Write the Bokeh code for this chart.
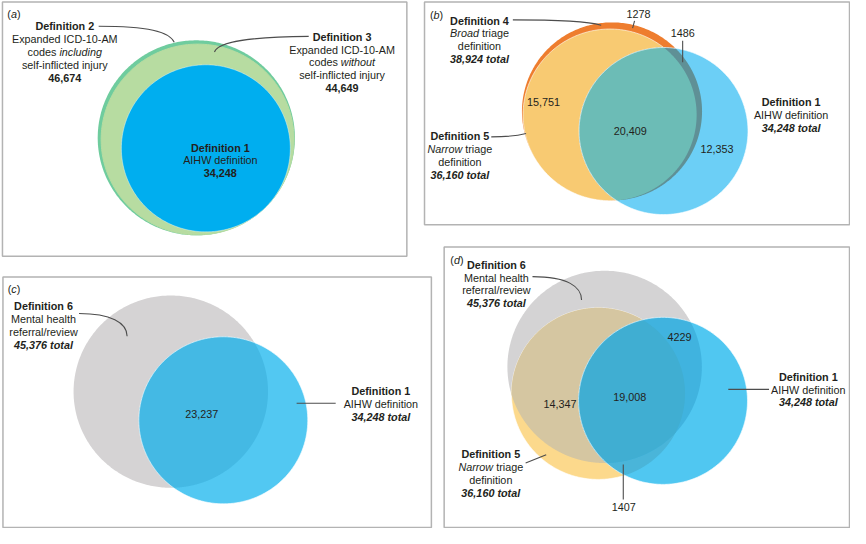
import numpy as np
from bokeh.plotting import figure
from bokeh.models import Range1d, ColumnDataSource
from bokeh.core.properties import value
from bokeh.embed import file_html
from bokeh.resources import INLINE

# ---------------- data ----------------
def_names = ["Definition 1", "Definition 2", "Definition 3", "Definition 4", "Definition 5", "Definition 6"]
def_totals = [34248, 46674, 44649, 38924, 36160, 45376]
TOT = dict(zip(def_names, def_totals))

# panel (b): Def4 only, Def4&Def1 not Def5, Def5 only, Def5&Def1, Def1 only
b_region_values = [1278, 1486, 15751, 20409, 12353]
# panel (c): Def6 & Def1
c_region_values = [23237]
# panel (d): Def6&Def1 not Def5, Def6&Def5 not Def1, all three, Def5&Def1 not Def6
d_region_values = [4229, 14347, 19008, 1407]


def fmt(v):
    return f"{v:,}" if v >= 10000 else str(v)


# ---------------- layout ----------------
K = 0.465  # px per sqrt(count) -> area proportional circles
FONT = "Liberation Sans"
FS = "10.8px"
FS_DATA = 11.0
TXT = "#231f20"
LEAD = "#4d4d4d"


def radius(name):
    return K * np.sqrt(TOT[name])


def circ(cx, cy, r, n=360):
    t = np.linspace(0, 2 * np.pi, n, endpoint=False)
    return list(cx + r * np.cos(t)), list(cy + r * np.sin(t))


def inter(circles, n=1440):
    px, py = [], []
    for i, (cx, cy, r) in enumerate(circles):
        t = np.linspace(0, 2 * np.pi, n, endpoint=False)
        x = cx + r * np.cos(t)
        y = cy + r * np.sin(t)
        ok = np.ones(n, bool)
        for j, (cx2, cy2, r2) in enumerate(circles):
            if j != i:
                ok &= (x - cx2) ** 2 + (y - cy2) ** 2 <= r2 ** 2 * (1 + 1e-9)
        px.extend(x[ok]); py.extend(y[ok])
    px = np.array(px); py = np.array(py)
    mx, my = px.mean(), py.mean()
    order = np.argsort(np.arctan2(py - my, px - mx))
    return list(px[order]), list(py[order])


p = figure(width=850, height=528, output_backend="svg", toolbar_location=None,
           x_range=Range1d(0, 866), y_range=Range1d(544, 0), min_border=0)
p.axis.visible = False
p.grid.visible = False
p.outline_line_color = None
p.background_fill_color = "white"

XS, YS, FILL, LC, LA = [], [], [], [], []


def add_patch(xy, fill, lc="white", la=0.0):
    XS.append(xy[0]); YS.append(xy[1]); FILL.append(fill); LC.append(lc); LA.append(la)


# panel a
a_c2 = (199.5, 141.5, radius("Definition 2"))
a_c3 = (200.8, 143.2, radius("Definition 3"))
a_c1 = (209.2, 152.3, radius("Definition 1"))
add_patch(circ(*a_c2), "#6fcc9e")
add_patch(circ(*a_c3), "#b7dca1", "#b7dca1", 1.0)
add_patch(circ(*a_c1), "#00aeef", "white", 0.4)

# panel b
b_c4 = (623.0, 114.3, radius("Definition 4"))
b_c5 = (620.8, 117.8, radius("Definition 5"))
b_c1 = (675.5, 134.5, radius("Definition 1"))
add_patch(circ(*b_c4), "#ee7d2e")
add_patch(circ(*b_c5), "#f8ca72", "white", 0.6)
add_patch(circ(*b_c1), "#6ccff6")
add_patch(inter([b_c4, b_c1]), "#5f9096")
add_patch(inter([b_c5, b_c1]), "#6cbcb6")

# panel c
c_c6 = (173.5, 403.0, radius("Definition 6"))
c_c1 = (227.0, 432.5, radius("Definition 1"))
add_patch(circ(*c_c6), "#d5d3d4")
add_patch(circ(*c_c1), "#52c8f2")
add_patch(inter([c_c6, c_c1]), "#44b9e4")

# panel d
d_c6 = (615.5, 377.5, radius("Definition 6"))
d_c5 = (609.0, 405.0, radius("Definition 5"))
d_c1 = (675.0, 412.5, radius("Definition 1"))
add_patch(circ(*d_c6), "#d4d3d4")
add_patch(circ(*d_c5), "#fcd98c", "white", 0.6)
add_patch(inter([d_c6, d_c5]), "#d5c6a1")
add_patch(circ(*d_c1), "#50c7f1")
add_patch(inter([d_c5, d_c1]), "#4ab5d9")
add_patch(inter([d_c6, d_c1]), "#40b3df")
add_patch(inter([d_c6, d_c5, d_c1]), "#40aed2")

p.patches(xs="xs", ys="ys", fill_color="fill", line_color="lc", line_alpha="la", line_width=1,
          source=ColumnDataSource(dict(xs=XS, ys=YS, fill=FILL, lc=LC, la=LA)))

# white outlines of the blue circles on top
OX, OY = [], []
for c in [b_c1, c_c1, d_c1]:
    xx, yy = circ(*c)
    OX.append(xx + [xx[0]]); OY.append(yy + [yy[0]])
p.multi_line(xs=OX, ys=OY, line_color="white", line_alpha=0.7, line_width=0.9)

# panel boxes
p.quad(left=[2, 432, 2.5, 452], right=[414, 865, 439, 865], top=[1.5, 1.5, 285, 254],
       bottom=[263.5, 231, 543, 543], fill_alpha=0, line_color="#b3b3b3", line_width=1.5)

# ---------------- texts ----------------
T = dict(x=[], y=[], text=[], style=[], align=[])

W = {' ': 278, '(': 333, ')': 333, 'B': 667, 'N': 722, 'a': 556, 'b': 556, 'c': 500, 'd': 556,
     'e': 556, 'g': 556, 'h': 556, 'i': 222, 'l': 222, 'n': 556, 'o': 556, 'r': 333, 's': 500,
     't': 278, 'u': 556, 'w': 722}


def width(s):
    return sum(W.get(ch, 556) for ch in s) / 1000.0 * FS_DATA


def add(x, y, s, style="normal", align="center"):
    T["x"].append(x); T["y"].append(y); T["text"].append(s); T["style"].append(style); T["align"].append(align)


def mixed(x, y, parts, center=True):
    total = sum(width(s) for s, _ in parts)
    cur = x - total / 2 if center else x
    for s, st in parts:
        lead = len(s) - len(s.lstrip(" "))
        add(cur + width(" " * lead), y, s.strip(" "), st, "left")
        cur += width(s)


def block(cx, y0, lines, dy=13.2):
    for k, ln in enumerate(lines):
        y = y0 + k * dy
        if isinstance(ln, list):
            mixed(cx, y, ln)
        else:
            add(cx, y, ln[0], ln[1])


def panel_label(x, y, letter):
    mixed(x, y, [("(", "normal"), (letter, "italic"), (")", "normal")], center=False)


# panel a
panel_label(7, 14, "a")
block(65.5, 26.7, [("Definition 2", "bold"), ("Expanded ICD-10-AM", "normal"),
                   [("codes ", "normal"), ("including", "italic")],
                   ("self-inflicted injury", "normal"), (fmt(TOT["Definition 2"]), "bold")])
block(348, 37.3, [("Definition 3", "bold"), ("Expanded ICD-10-AM", "normal"),
                  [("codes ", "normal"), ("without", "italic")],
                  ("self-inflicted injury", "normal"), (fmt(TOT["Definition 3"]), "bold")])
block(224, 151.5, [("Definition 1", "bold"), ("AIHW definition", "normal"),
                   (fmt(TOT["Definition 1"]), "bold")])

# panel b
panel_label(437.5, 15, "b")
block(488, 20.7, [("Definition 4", "bold"), [("Broad", "italic"), (" triage", "normal")],
                  ("definition", "normal"), (fmt(TOT["Definition 4"]) + " total", "bold italic")])
block(468, 140, [("Definition 5", "bold"), [("Narrow", "italic"), (" triage", "normal")],
                 ("definition", "normal"), (fmt(TOT["Definition 5"]) + " total", "bold italic")])
block(805.5, 105, [("Definition 1", "bold"), ("AIHW definition", "normal"),
                   (fmt(TOT["Definition 1"]) + " total", "bold italic")])
b_label_pos = [(650, 14), (695, 33.3), (553.3, 104.3), (641.7, 134), (730, 153.3)]
for v, (x, y) in zip(b_region_values, b_label_pos):
    add(x, y, fmt(v))

# panel c
panel_label(7.3, 297.3, "c")
block(43.8, 315, [("Definition 6", "bold"), ("Mental health", "normal"), ("referral/review", "normal"),
                  (fmt(TOT["Definition 6"]) + " total", "bold italic")])
block(387.5, 402.7, [("Definition 1", "bold"), ("AIHW definition", "normal"),
                     (fmt(TOT["Definition 1"]) + " total", "bold italic")])
add(205, 425.7, fmt(c_region_values[0]))

# panel d
panel_label(458.3, 267.3, "d")
block(505.3, 272.3, [("Definition 6", "bold"), ("Mental health", "normal"), ("referral/review", "normal"),
                     (fmt(TOT["Definition 6"]) + " total", "bold italic")])
block(823, 387.7, [("Definition 1", "bold"), ("AIHW definition", "normal"),
                   (fmt(TOT["Definition 1"]) + " total", "bold italic")])
block(499.5, 467.5, [("Definition 5", "bold"), [("Narrow", "italic"), (" triage", "normal")],
                     ("definition", "normal"), (fmt(TOT["Definition 5"]) + " total", "bold italic")])
d_label_pos = [(691.7, 346.7), (570, 415.7), (641, 409), (635, 521.7)]
for v, (x, y) in zip(d_region_values, d_label_pos):
    add(x, y, fmt(v))

p.text(x="x", y="y", text="text", text_font_style="style", text_align="align",
       text_baseline="middle", text_font=value(FONT), text_font_size=FS, text_color=TXT,
       source=ColumnDataSource(T))

# ---------------- leader lines ----------------
leaders = [
    # x0, y0, cx0, cy0, cx1, cy1, x1, y1
    (100, 26.5, 150, 26.5, 172, 32, 177, 43),
    (314, 37, 255, 37.5, 222, 42, 218, 53),
    (522, 20, 565, 20, 600, 22, 612, 25.5),
    (646, 21, 646, 21, 644, 28.5, 644, 28.5),
    (695, 41.5, 695, 41.5, 695, 63.5, 695, 63.5),
    (500, 140.5, 518, 140.5, 528, 139, 535.5, 137),
    (80, 322.5, 112, 322.5, 129, 332, 129, 346),
    (301.7, 415, 301.7, 415, 341.5, 415, 341.5, 415),
    (542, 284.5, 578, 284.5, 592, 295, 592, 308.5),
    (741.5, 400.7, 741.5, 400.7, 783, 400.7, 783, 400.7),
    (535, 476.5, 535, 476.5, 556, 468, 556, 468),
    (634.5, 478, 634.5, 478, 634.5, 514, 634.5, 514),
]
L = list(zip(*leaders))
p.bezier(x0=list(L[0]), y0=list(L[1]), cx0=list(L[2]), cy0=list(L[3]), cx1=list(L[4]),
         cy1=list(L[5]), x1=list(L[6]), y1=list(L[7]), line_color=LEAD, line_width=1.1)

open("out.html", "w").write(file_html(p, INLINE))
